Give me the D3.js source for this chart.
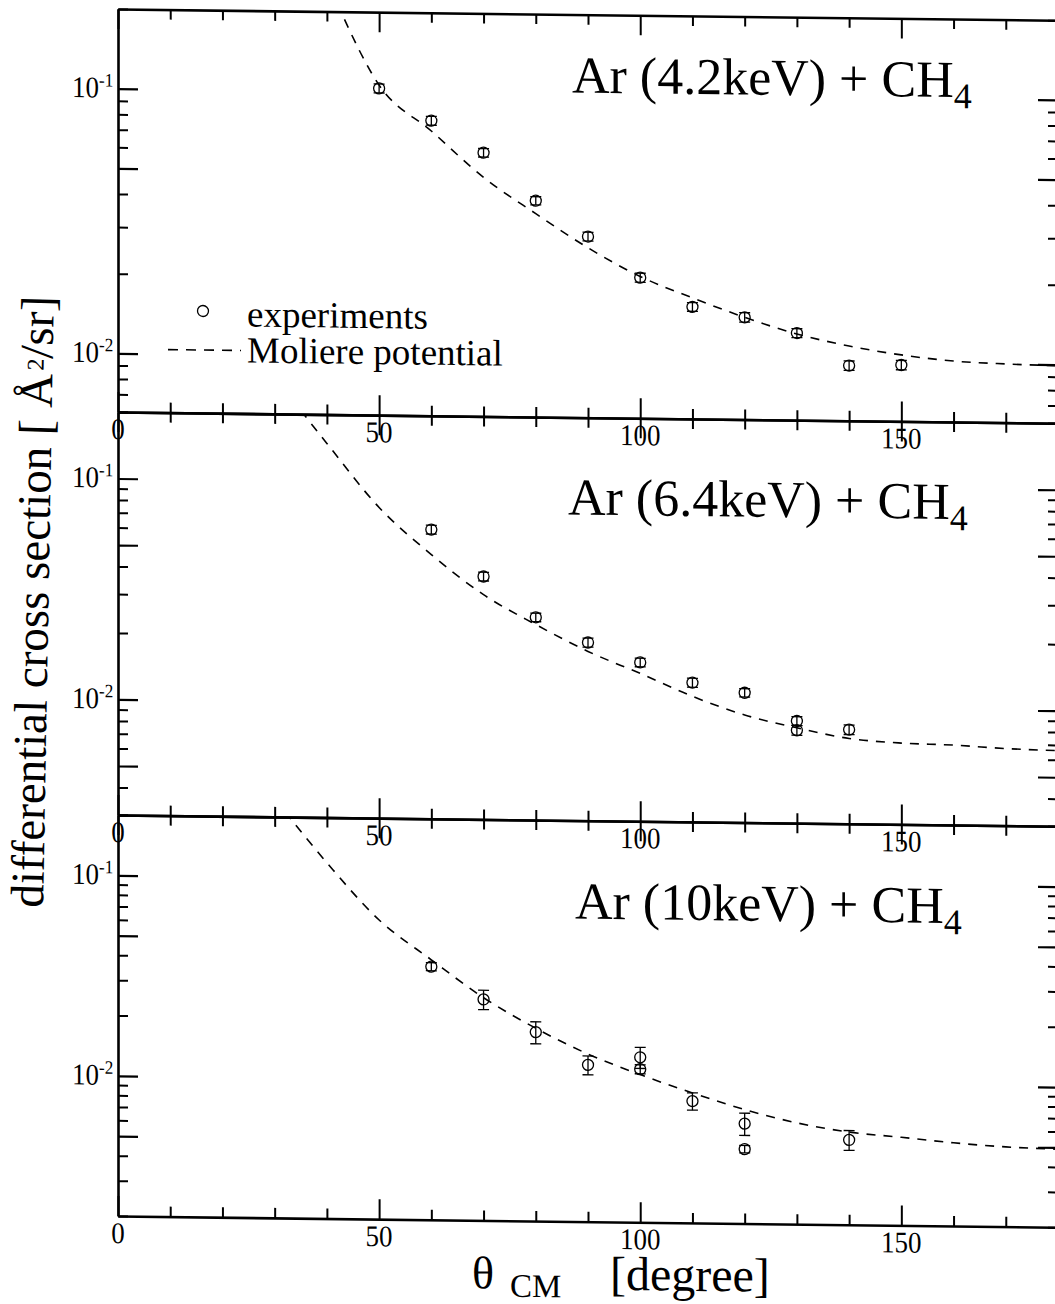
<!DOCTYPE html>
<html><head><meta charset="utf-8">
<script src="https://cdn.jsdelivr.net/npm/d3@7"></script>
<style>
body{margin:0;background:#fff}
svg{display:block}
text{font-family:"Liberation Serif","Times New Roman",serif;fill:#000}
</style>
</head><body>
<svg id="c" width="1055" height="1304"></svg>
<script>
// ---------- data ----------
const xDomain = [0, 180];
const xMajorTicks = [0, 50, 100, 150];
const xMinorTicks = [10, 20, 30, 40, 60, 70, 80, 90, 110, 120, 130, 140, 160, 170];
const xTickLabels = ["0", "50", "100", "150"];
const yMajorTicks = [0.005, 0.01, 0.05, 0.1];
const yMinorTicks = [0.002, 0.003, 0.004, 0.006, 0.007, 0.008, 0.009, 0.02, 0.03, 0.04, 0.06, 0.07, 0.08, 0.09, 0.2];
const yLabelValues = [0.1, 0.01];
const yLabelExponents = ["-1", "-2"];
const panelTitles = ["Ar (4.2keV) + CH", "Ar (6.4keV) + CH", "Ar (10keV) + CH"];
const titleSub = "4";
const yDomains = [[0.006, 0.2], [0.003, 0.2], [0.002, 0.2]];

// Ar 4.2 keV
const thetaExp1 = [50, 60, 70, 80, 90, 100, 110, 120, 130, 140, 150];
const dcsExp1 = [0.103, 0.0782, 0.0595, 0.0394, 0.0290, 0.0204, 0.0159, 0.0146, 0.0128, 0.0097, 0.0098];
const errExp1 = [0.004, 0.003, 0.0022, 0.0014, 0.0011, 0.0008, 0.0006, 0.0006, 0.0005, 0.0004, 0.0004];
const thetaCurve1 = [42, 50, 60, 70, 80, 90, 100, 110, 120, 130, 140, 150, 160, 170, 180];
const dcsCurve1 = [0.214, 0.106, 0.0715, 0.0480, 0.0352, 0.0263, 0.0206, 0.0172, 0.0146, 0.0127, 0.0115, 0.0107, 0.0102, 0.0100, 0.0099];

// Ar 6.4 keV
const thetaExp2 = [60, 70, 80, 90, 100, 110, 120, 130, 130, 140];
const dcsExp2 = [0.0611, 0.0377, 0.0248, 0.0192, 0.0157, 0.0128, 0.0116, 0.0087, 0.0079, 0.0080];
const errExp2 = [0.0028, 0.0017, 0.0011, 0.0009, 0.0007, 0.0006, 0.0005, 0.0004, 0.0004, 0.0004];
const thetaCurve2 = [35, 40, 50, 60, 70, 80, 90, 100, 110, 120, 130, 140, 150, 160, 170, 180];
const dcsCurve2 = [0.208, 0.148, 0.0764, 0.0471, 0.0312, 0.0230, 0.0175, 0.0140, 0.0111, 0.0092, 0.0081, 0.0073, 0.0070, 0.0069, 0.0067, 0.0066];

// Ar 10 keV
const thetaExp3 = [60, 70, 80, 90, 100, 100, 110, 120, 120, 140];
const dcsExp3 = [0.0366, 0.0253, 0.0175, 0.0121, 0.0133, 0.0116, 0.0081, 0.0063, 0.0047, 0.0053];
const errExp3 = [0.0017, 0.0028, 0.0022, 0.0013, 0.0016, 0.0006, 0.0008, 0.0008, 0.0002, 0.0006];
const thetaCurve3 = [32, 40, 50, 60, 70, 80, 90, 100, 110, 120, 130, 140, 150, 160, 170, 180];
const dcsCurve3 = [0.212, 0.119, 0.0621, 0.0396, 0.0258, 0.0183, 0.0137, 0.0109, 0.0089, 0.0074, 0.0064, 0.0058, 0.0055, 0.0052, 0.0050, 0.0049];

const legendLabels = ["experiments", "Moliere potential"];
const yTitle = ["differential cross section [ Å", "2", "/sr]"];
const xTitle = ["θ", "CM", "[degree]"];

// ---------- layout ----------
const W = 1055, H = 1304;
const xLeft = 118, xRight = 1058;
const panelTop = [9, 412, 815];
const panelBottom = [412, 815, 1216];
const titleX = [572, 568, 575];
const titleOffset = [78, 97, 98];
const skew = 0.012;

const panels = [
  {exp: thetaExp1.map((t, i) => ({t, v: dcsExp1[i], e: errExp1[i]})), curve: thetaCurve1.map((t, i) => [t, dcsCurve1[i]])},
  {exp: thetaExp2.map((t, i) => ({t, v: dcsExp2[i], e: errExp2[i]})), curve: thetaCurve2.map((t, i) => [t, dcsCurve2[i]])},
  {exp: thetaExp3.map((t, i) => ({t, v: dcsExp3[i], e: errExp3[i]})), curve: thetaCurve3.map((t, i) => [t, dcsCurve3[i]])}
];

const svg = d3.select("#c");
svg.append("rect").attr("width", W).attr("height", H).attr("fill", "#fff");
const root = svg.append("g").attr("transform", `matrix(1,${skew},0,1,0,${-skew * xLeft})`);

const x = d3.scaleLinear().domain(xDomain).range([xLeft, xRight]);

function styleAxis(g, w) {
  g.selectAll("line").attr("stroke", "#000").attr("stroke-width", w);
  g.selectAll(".domain").attr("stroke", "#000").attr("stroke-width", 2.6);
  g.selectAll("text").remove();
}

panels.forEach((p, i) => {
  const y = d3.scaleLog().domain(yDomains[i]).range([panelBottom[i], panelTop[i]]);
  const g = root.append("g");
  const clipId = "clip" + i;
  g.append("clipPath").attr("id", clipId).append("rect")
    .attr("x", xLeft).attr("y", panelTop[i])
    .attr("width", xRight - xLeft).attr("height", panelBottom[i] - panelTop[i]);

  const majY = yMajorTicks.filter(v => v >= yDomains[i][0] && v <= yDomains[i][1]);
  const minY = yMinorTicks.filter(v => v >= yDomains[i][0] && v <= yDomains[i][1]);

  // x axes (bottom: ticks up, top: ticks down)
  g.append("g").attr("transform", `translate(0,${panelBottom[i]})`)
    .call(d3.axisTop(x).tickValues(xMajorTicks).tickSize(20).tickSizeOuter(0).tickFormat(""))
    .call(a => styleAxis(a, 2));
  g.append("g").attr("transform", `translate(0,${panelBottom[i]})`)
    .call(d3.axisTop(x).tickValues(xMinorTicks).tickSize(10).tickSizeOuter(0).tickFormat(""))
    .call(a => { styleAxis(a, 2); a.select(".domain").remove(); });
  g.append("g").attr("transform", `translate(0,${panelTop[i]})`)
    .call(d3.axisBottom(x).tickValues(xMajorTicks).tickSize(20).tickSizeOuter(0).tickFormat(""))
    .call(a => styleAxis(a, 2));
  g.append("g").attr("transform", `translate(0,${panelTop[i]})`)
    .call(d3.axisBottom(x).tickValues(xMinorTicks).tickSize(10).tickSizeOuter(0).tickFormat(""))
    .call(a => { styleAxis(a, 2); a.select(".domain").remove(); });

  // y axes (left: ticks right, right: ticks left)
  g.append("g").attr("transform", `translate(${xLeft},0)`)
    .call(d3.axisRight(y).tickValues(majY).tickSize(20).tickSizeOuter(0).tickFormat(""))
    .call(a => styleAxis(a, 2.2));
  g.append("g").attr("transform", `translate(${xLeft},0)`)
    .call(d3.axisRight(y).tickValues(minY).tickSize(10).tickSizeOuter(0).tickFormat(""))
    .call(a => { styleAxis(a, 2); a.select(".domain").remove(); });
  g.append("g").attr("transform", `translate(${xRight},0)`)
    .call(d3.axisLeft(y).tickValues(majY).tickSize(20).tickSizeOuter(0).tickFormat(""))
    .call(a => styleAxis(a, 2.2));
  g.append("g").attr("transform", `translate(${xRight},0)`)
    .call(d3.axisLeft(y).tickValues(minY).tickSize(10).tickSizeOuter(0).tickFormat(""))
    .call(a => { styleAxis(a, 2); a.select(".domain").remove(); });

  // x tick labels (slightly condensed, like the reference)
  g.selectAll(".xl").data(xMajorTicks).join("text")
    .attr("transform", d => `translate(${x(d)},${panelBottom[i] + 27}) scale(0.9,1)`)
    .attr("text-anchor", "middle").attr("font-size", 30)
    .text((d, k) => xTickLabels[k]);

  // y tick labels
  yLabelValues.forEach((v, k) => {
    const t = g.append("text")
      .attr("transform", `translate(72,${y(v) + 9}) scale(0.9,1)`)
      .attr("font-size", 30);
    t.append("tspan").text("10");
    t.append("tspan").attr("font-size", 19).attr("dy", -11).text(yLabelExponents[k]);
  });

  // title
  const tt = g.append("text").attr("x", titleX[i]).attr("y", panelTop[i] + titleOffset[i]).attr("font-size", 52);
  tt.append("tspan").text(panelTitles[i]);
  tt.append("tspan").attr("font-size", 36).attr("dy", 11).text(titleSub);

  // Moliere curve
  const line = d3.line().x(d => x(d[0])).y(d => y(d[1])).curve(d3.curveMonotoneX);
  g.append("path").datum(p.curve).attr("clip-path", `url(#${clipId})`)
    .attr("d", line).attr("fill", "none").attr("stroke", "#000")
    .attr("stroke-width", 1.6).attr("stroke-dasharray", "9,8");

  // experiments with error bars
  const pts = g.append("g").attr("stroke", "#000").attr("fill", "none").attr("stroke-width", 1.3);
  p.exp.forEach(d => {
    const cx = x(d.t);
    const y1 = y(d.v + d.e), y2 = y(d.v - d.e);
    pts.append("line").attr("x1", cx).attr("x2", cx).attr("y1", y1).attr("y2", y2);
    pts.append("line").attr("x1", cx - 5.5).attr("x2", cx + 5.5).attr("y1", y1).attr("y2", y1);
    pts.append("line").attr("x1", cx - 5.5).attr("x2", cx + 5.5).attr("y1", y2).attr("y2", y2);
    pts.append("circle").attr("cx", cx).attr("cy", y(d.v)).attr("r", 5.5);
  });

  if (i === 0) {
    const lg = g.append("g");
    lg.append("circle").attr("cx", 203).attr("cy", 310).attr("r", 5.5)
      .attr("fill", "none").attr("stroke", "#000").attr("stroke-width", 1.3);
    lg.append("text").attr("x", 247).attr("y", 325).attr("font-size", 37).text(legendLabels[0]);
    lg.append("line").attr("x1", 168).attr("x2", 241).attr("y1", 349).attr("y2", 349)
      .attr("stroke", "#000").attr("stroke-width", 1.6).attr("stroke-dasharray", "10,8");
    lg.append("text").attr("x", 247).attr("y", 361).attr("font-size", 37).text(legendLabels[1]);
  }
});

// y title
const yt = root.append("text").attr("transform", "translate(43,909) rotate(-89)").attr("font-size", 47);
yt.append("tspan").text(yTitle[0]);
yt.append("tspan").attr("font-size", 24).attr("dy", -9).attr("dx", 3).text(yTitle[1]);
yt.append("tspan").attr("font-size", 47).attr("dy", 9).text(yTitle[2]);

// x title
root.append("text").attr("x", 472).attr("y", 1284).attr("font-size", 46).text(xTitle[0]);
root.append("text").attr("x", 510).attr("y", 1292).attr("font-size", 33).text(xTitle[1]);
root.append("text").attr("x", 610).attr("y", 1284).attr("font-size", 48).text(xTitle[2]);
</script>
</body></html>
